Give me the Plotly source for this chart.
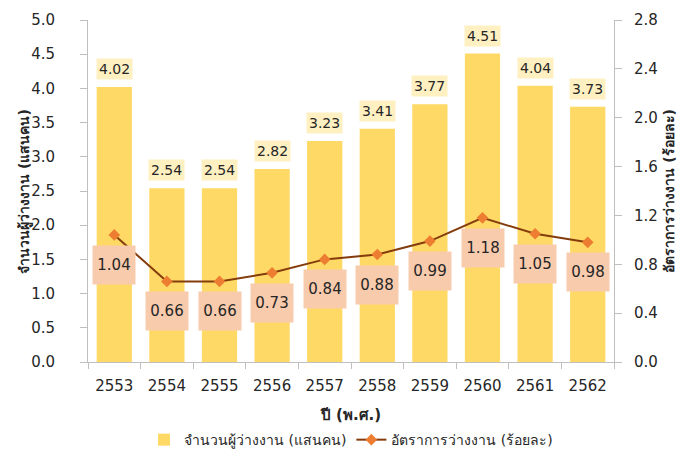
import plotly.graph_objects as go

years = ["2553", "2554", "2555", "2556", "2557", "2558", "2559", "2560", "2561", "2562"]
unemployed = [4.02, 2.54, 2.54, 2.82, 3.23, 3.41, 3.77, 4.51, 4.04, 3.73]
rate = [1.04, 0.66, 0.66, 0.73, 0.84, 0.88, 0.99, 1.18, 1.05, 0.98]

bar_name = "จำนวนผู้ว่างงาน (แสนคน)"
line_name = "อัตราการว่างงาน (ร้อยละ)"
x_title = "ปี (พ.ศ.)"

FONT = "Tahoma, DejaVu Sans, Noto Sans, sans-serif"
TXT = "#262626"
AX = "#BFBFBF"

fig = go.Figure()
fig.add_trace(go.Bar(x=years, y=unemployed, name=bar_name, marker_color="#FFD966",
                     marker_line_width=0, yaxis="y"))
fig.add_trace(go.Scatter(x=years, y=rate, name=line_name, mode="lines+markers",
                         line=dict(color="#843C0C", width=2),
                         marker=dict(symbol="diamond", size=9, color="#ED7D31",
                                     line=dict(color="#ED7D31", width=0)),
                         yaxis="y2"))

annotations = []
for i, v in enumerate(unemployed):
    annotations.append(dict(x=i, y=v, xref="x", yref="y", text=f"{v:.2f}",
                            showarrow=False, yanchor="bottom", yshift=7,
                            font=dict(size=14, color=TXT, family=FONT),
                            bgcolor="#FFF0C2", borderpad=2))
for i, v in enumerate(rate):
    annotations.append(dict(x=i, y=v, xref="x", yref="y2", text=f"{v:.2f}",
                            showarrow=False, yanchor="middle", yshift=-30,
                            font=dict(size=15, color=TXT, family=FONT),
                            bgcolor="#F8CBAD", width=40, height=36))
# axis titles
annotations.append(dict(x=-0.122, y=0.5, xref="paper", yref="paper", text="<b>" + bar_name + "</b>",
                        textangle=-90, showarrow=False, xanchor="center", yanchor="middle",
                        font=dict(size=14, color=TXT, family=FONT)))
annotations.append(dict(x=1.104, y=0.5, xref="paper", yref="paper", text="<b>" + line_name + "</b>",
                        textangle=-90, showarrow=False, xanchor="center", yanchor="middle",
                        font=dict(size=14, color=TXT, family=FONT)))

fig.update_layout(
    width=679, height=451,
    margin=dict(l=80, r=73, t=12, b=97),
    paper_bgcolor="white", plot_bgcolor="white",
    font=dict(family=FONT, color=TXT, size=13),
    bargap=0.33,
    showlegend=True,
    legend=dict(orientation="h", x=0.5, xanchor="center", yref="container", y=0.042,
                yanchor="middle", font=dict(size=14, color=TXT), traceorder="normal"),
    xaxis=dict(type="category", range=[-0.5, 9.5], tickson="boundaries", ticks="outside",
               ticklen=6, tickcolor=AX, showline=True, linecolor=AX, automargin=False,
               tickangle=0, tickfont=dict(size=15, color=TXT), ticklabelstandoff=10,
               title=dict(text="<b>" + x_title + "</b>", font=dict(size=15, color=TXT), standoff=20)),
    yaxis=dict(range=[0, 5.0], dtick=0.5, tickformat=".1f", ticks="outside", ticklen=7,
               tickcolor=AX, showline=True, linecolor=AX, showgrid=False, automargin=False,
               zeroline=False, tickfont=dict(size=15, color=TXT), ticklabelstandoff=22),
    yaxis2=dict(range=[0, 2.8], dtick=0.4, tickformat=".1f", overlaying="y", side="right",
                ticks="outside", ticklen=7, tickcolor=AX, showline=True, automargin=False,
                linecolor=AX, showgrid=False, zeroline=False,
                tickfont=dict(size=15, color=TXT), ticklabelstandoff=9),
    annotations=annotations,
)

fig.write_html("out.html")
